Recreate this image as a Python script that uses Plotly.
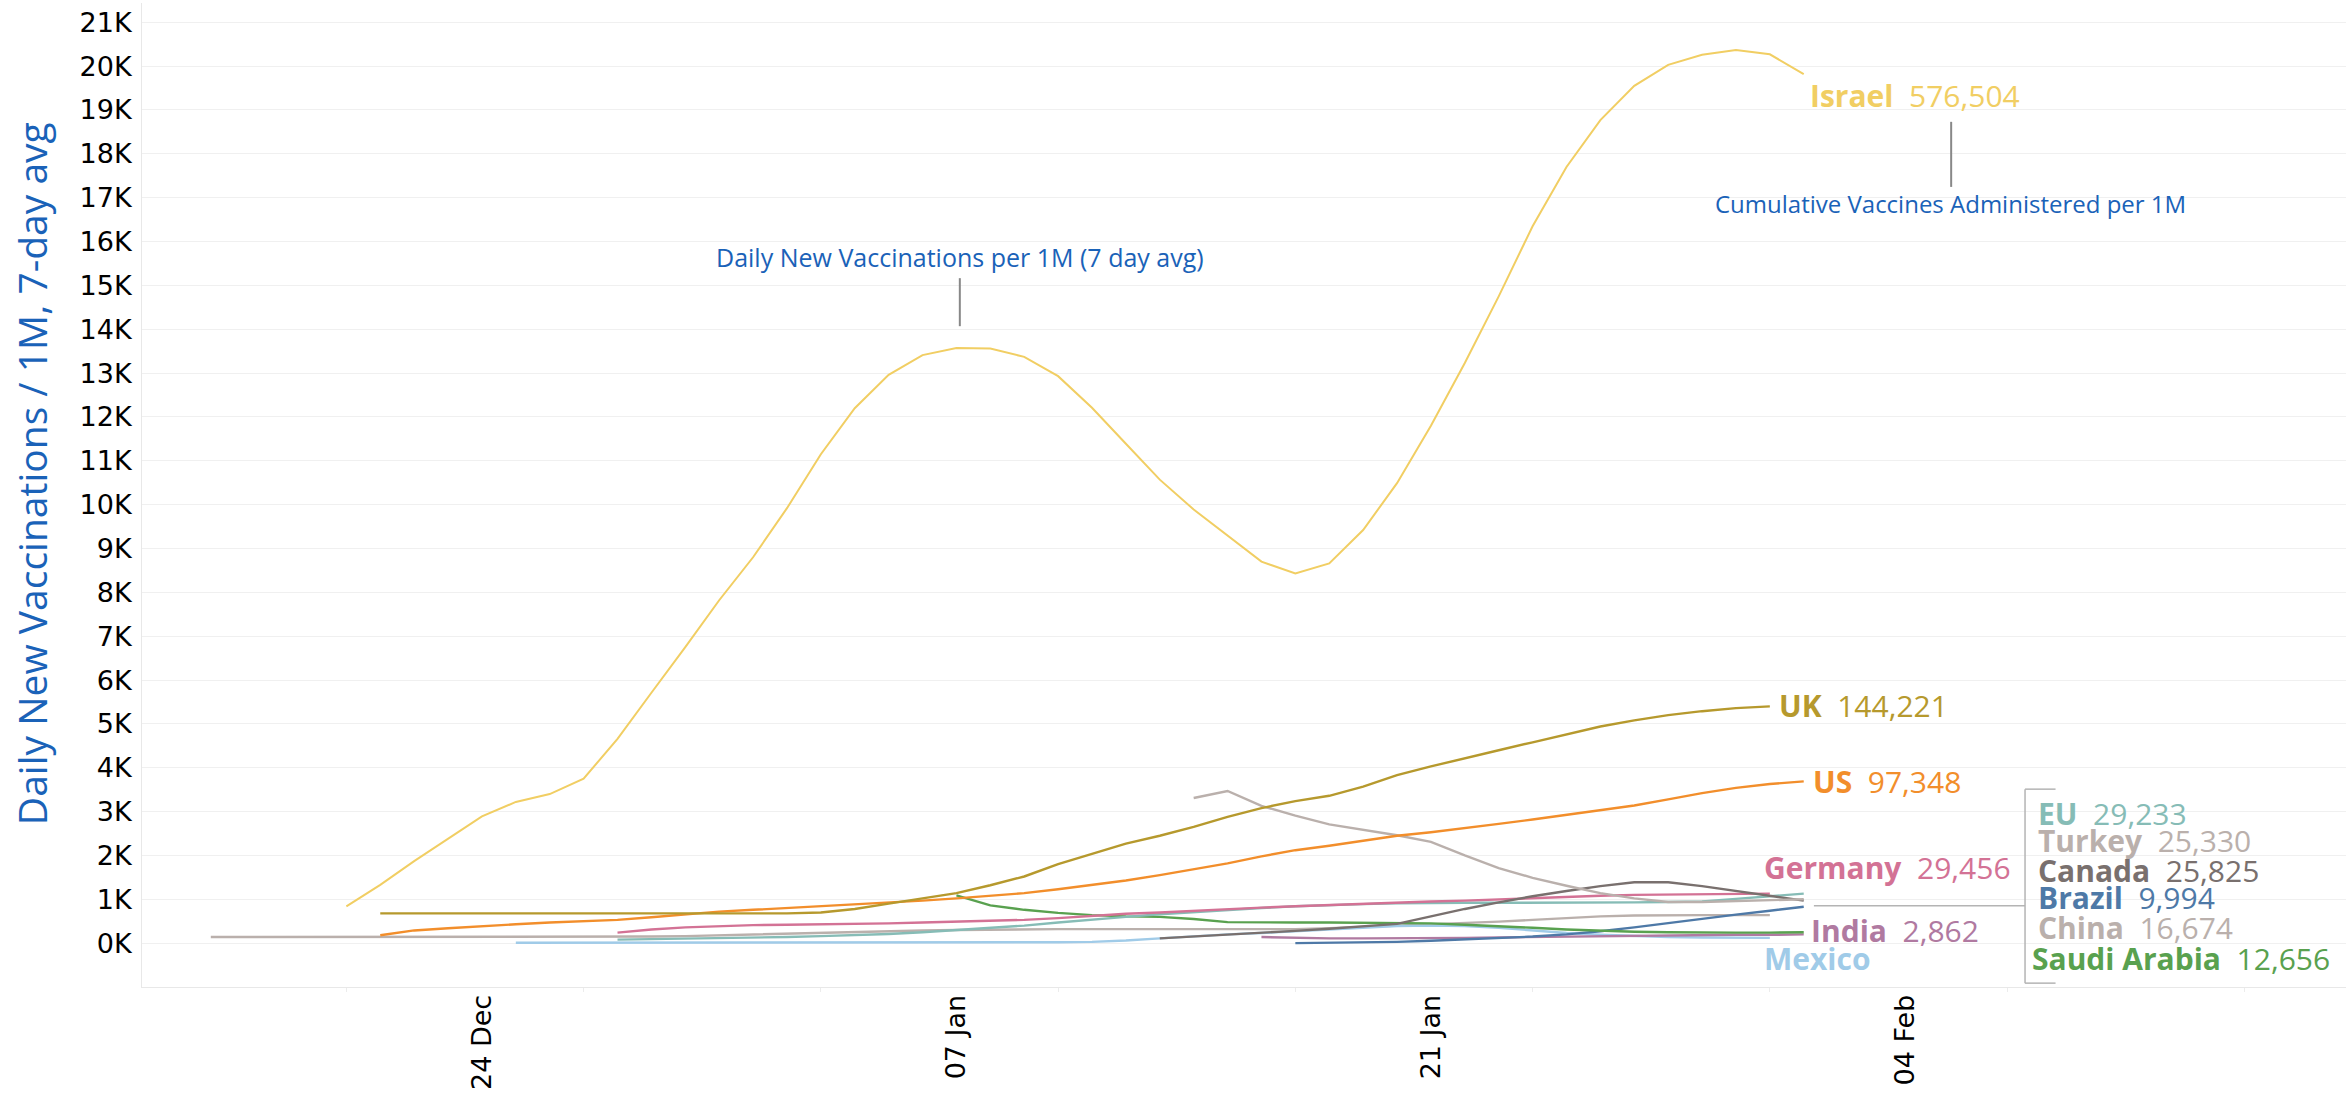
import pandas as pd
import plotly.graph_objects as go

# ---------------- data (daily new vaccinations per 1M, 7-day avg) ----------------
BASE = "2020-12-24"

israel_start = "2020-12-20"
israel = [840, 1330, 1870, 2380, 2890, 3220, 3400, 3750, 4660, 5710, 6750, 7820, 8800, 9920,
          11150, 12200, 12960, 13410, 13570, 13560, 13370, 12930, 12210, 11390, 10570, 9890,
          9300, 8700, 8430, 8660, 9420, 10490, 11800, 13230, 14750, 16350, 17700, 18770,
          19550, 20030, 20260, 20370, 20270, 19820]

uk_start = "2020-12-21"
uk = [680, 680, 680, 680, 680, 680, 680, 680, 680, 680, 680, 680, 680, 700, 780, 900, 1020,
      1140, 1320, 1520, 1800, 2030, 2270, 2450, 2650, 2880, 3080, 3240, 3360, 3570, 3830,
      4030, 4220, 4400, 4580, 4760, 4940, 5080, 5200, 5290, 5360, 5400]

us_start = "2020-12-21"
us = [180, 290, 340, 390, 430, 470, 500, 530, 590, 660, 720, 760, 800, 850, 890, 930, 970,
      1020, 1080, 1140, 1230, 1330, 1430, 1550, 1680, 1820, 1980, 2120, 2220, 2340, 2450,
      2530, 2620, 2720, 2820, 2930, 3040, 3140, 3280, 3420, 3540, 3630, 3690]

germany_start = "2020-12-28"
germany = [240, 310, 360, 390, 410, 420, 430, 430, 450, 470, 490, 510, 530, 570, 620, 670,
           700, 740, 770, 810, 840, 870, 900, 920, 950, 970, 1000, 1030, 1060, 1080, 1100,
           1110, 1120, 1130, 1130]

eu_start = "2020-12-28"
eu = [80, 90, 100, 110, 120, 140, 160, 180, 210, 250, 300, 350, 400, 470, 540, 600, 660, 710,
      760, 800, 840, 870, 890, 910, 920, 920, 920, 920, 920, 920, 930, 940, 950, 1010, 1070,
      1130]

turkey_start = "2021-01-14"
turkey = [3310, 3470, 3130, 2910, 2710, 2580, 2460, 2310, 2000, 1710, 1490, 1310, 1140, 1020,
          940, 940, 960, 980, 1000]

canada_start = "2021-01-13"
canada = [110, 150, 190, 230, 280, 330, 380, 440, 610, 780, 930, 1070, 1190, 1300, 1390, 1390,
          1300, 1190, 1090, 970]

china_start = "2020-12-16"
china = [140, 140, 140, 140, 140, 140, 140, 140, 140, 140, 140, 140, 140, 150, 160, 180, 200,
         220, 240, 260, 280, 290, 300, 310, 320, 320, 320, 320, 310, 310, 310, 310, 320, 340,
         370, 400, 420, 450, 490, 530, 570, 610, 630, 640, 640, 640, 640]

brazil_start = "2021-01-17"
brazil = [0, 5, 15, 30, 55, 85, 115, 150, 200, 270, 360, 460, 560, 650, 740, 830]

india_start = "2021-01-16"
india = [140, 120, 110, 110, 110, 120, 120, 130, 140, 150, 160, 170, 180, 180, 190, 190, 200]

mexico_start = "2020-12-25"
mexico = [10, 10, 10, 10, 10, 10, 10, 10, 10, 10, 15, 15, 15, 20, 20, 20, 20, 30, 60, 110, 160,
          200, 230, 270, 310, 350, 390, 400, 390, 350, 290, 230, 190, 160, 140, 130, 120, 120]

saudi_start = "2021-01-07"
saudi = [1090, 860, 760, 690, 640, 610, 600, 550, 480, 470, 470, 470, 460, 460, 450, 420, 390,
         350, 310, 280, 260, 250, 240, 240, 240, 250]

# cumulative vaccines administered per 1M (label values)
label_names = ["Israel", "UK", "US", "Germany", "EU", "Turkey", "Canada", "Brazil", "India",
               "China", "Saudi Arabia", "Mexico"]
label_values = ["576,504", "144,221", "97,348", "29,456", "29,233", "25,330", "25,825",
                "9,994", "2,862", "16,674", "12,656", ""]

y_tick_vals = list(range(0, 21001, 1000))
y_tick_text = [f"{v // 1000}K" for v in y_tick_vals]
x_tick_vals = ["2020-12-24", "2021-01-07", "2021-01-21", "2021-02-04"]
x_tick_text = ["24 Dec", "07 Jan", "21 Jan", "04 Feb"]

# ---------------- styling ----------------
series = [
    ("China", china_start, china, "#BAB0AC"),
    ("Mexico", mexico_start, mexico, "#A0CBE8"),
    ("India", india_start, india, "#B07AA1"),
    ("Brazil", brazil_start, brazil, "#4E79A7"),
    ("Saudi Arabia", saudi_start, saudi, "#59A14F"),
    ("EU", eu_start, eu, "#86BCB6"),
    ("Germany", germany_start, germany, "#D37295"),
    ("Canada", canada_start, canada, "#79706E"),
    ("Turkey", turkey_start, turkey, "#BAB0AC"),
    ("US", us_start, us, "#F28E2B"),
    ("UK", uk_start, uk, "#B6992D"),
    ("Israel", israel_start, israel, "#F1CE63"),
]
colors = {name: c for name, _, _, c in series}

base = pd.Timestamp(BASE)


def day(d):
    return (base + pd.Timedelta(days=d)).strftime("%Y-%m-%d %H:%M:%S")


fig = go.Figure()
for name, start, vals, col in series:
    dates = pd.date_range(start, periods=len(vals), freq="D")
    fig.add_trace(go.Scatter(x=dates, y=vals, mode="lines", name=name,
                             line=dict(color=col, width=2.0 if name == "Israel" else 2.4),
                             hoverinfo="skip", showlegend=False))

LABEL_FONT = "Open Sans"
LS = 30
# label placement: (day offset from 24 Dec, y value)
label_pos = {
    "Israel": (39.12, 19340), "UK": (38.2, 5430), "US": (39.2, 3680),
    "Germany": (37.77, 1733), "India": (39.15, 296), "Mexico": (37.77, -342),
    "EU": (45.85, 2965), "Turkey": (45.85, 2349), "Canada": (45.85, 1665),
    "Brazil": (45.85, 1049), "China": (45.85, 365), "Saudi Arabia": (45.67, -342),
}
for name, val in zip(label_names, label_values):
    dx, yv = label_pos[name]
    txt = f"<b>{name}</b>" + (f"&nbsp;&nbsp;{val}" if val else "")
    fig.add_annotation(x=day(dx), y=yv, text=txt, showarrow=False, xanchor="left",
                       yanchor="middle", font=dict(family=LABEL_FONT, size=LS, color=colors[name]))

BLUE = "#1a62b8"
# annotation texts with pointer lines
fig.add_annotation(x=day(14.1), y=15640, text="Daily New Vaccinations per 1M (7 day avg)",
                   showarrow=False, xanchor="center", yanchor="middle",
                   font=dict(family=LABEL_FONT, size=25, color=BLUE))
fig.add_shape(type="line", x0=day(14.1), x1=day(14.1), y0=14070, y1=15165,
              line=dict(color="#888888", width=2))
fig.add_annotation(x=day(43.33), y=16876, text="Cumulative Vaccines Administered per 1M",
                   showarrow=False, xanchor="center", yanchor="middle",
                   font=dict(family=LABEL_FONT, size=24, color=BLUE))
fig.add_shape(type="line", x0=day(43.35), x1=day(43.35), y0=17246, y1=18730,
              line=dict(color="#888888", width=2))

# bracket for grouped labels
BR = "#b4b4b4"
fig.add_shape(type="line", x0=day(45.53), x1=day(45.53), y0=-912, y1=3512, line=dict(color=BR, width=1.5))
fig.add_shape(type="line", x0=day(45.53), x1=day(46.43), y0=3512, y1=3512, line=dict(color=BR, width=1.5))
fig.add_shape(type="line", x0=day(45.53), x1=day(46.43), y0=-912, y1=-912, line=dict(color=BR, width=1.5))
fig.add_shape(type="line", x0=day(39.3), x1=day(45.53), y0=851, y1=851, line=dict(color=BR, width=1.5))

# y axis title
fig.add_annotation(xref="paper", yref="paper", x=-0.05, y=0.522,
                   text="Daily New Vaccinations / 1M, 7-day avg", textangle=-90,
                   showarrow=False, xanchor="center", yanchor="middle",
                   font=dict(family=LABEL_FONT, size=39, color=BLUE))

TICK_FONT = dict(family="DejaVu Sans", size=27, color="#000000")
fig.update_layout(
    width=2346, height=1096,
    margin=dict(l=142, r=0, t=3, b=109, pad=0, autoexpand=False),
    paper_bgcolor="white", plot_bgcolor="white",
    xaxis=dict(type="date", range=[day(-10.03), day(55.0)], automargin=False,
               tickvals=x_tick_vals, ticktext=x_tick_text, tickangle=-90,
               tickfont=TICK_FONT, showgrid=False, zeroline=False,
               showline=True, linecolor="#e8e8e8", linewidth=1,
               ticks="", ticklabelstandoff=-4,
               minor=dict(ticks="outside", dtick=86400000 * 7, ticklen=4, tickcolor="#ececec",
                          showgrid=False),
               fixedrange=True),
    yaxis=dict(range=[-1000, 21440], tickvals=y_tick_vals, ticktext=y_tick_text, automargin=False,
               tickfont=TICK_FONT, showgrid=True, gridcolor="#f0f0f0", gridwidth=1,
               zeroline=False, showline=True, linecolor="#e8e8e8", linewidth=1,
               ticks="", ticklabelstandoff=4, fixedrange=True),
)

fig.write_html("out.html", config={"displayModeBar": False},
               post_script="document.body.style.margin='0';document.body.style.overflow='hidden';")
